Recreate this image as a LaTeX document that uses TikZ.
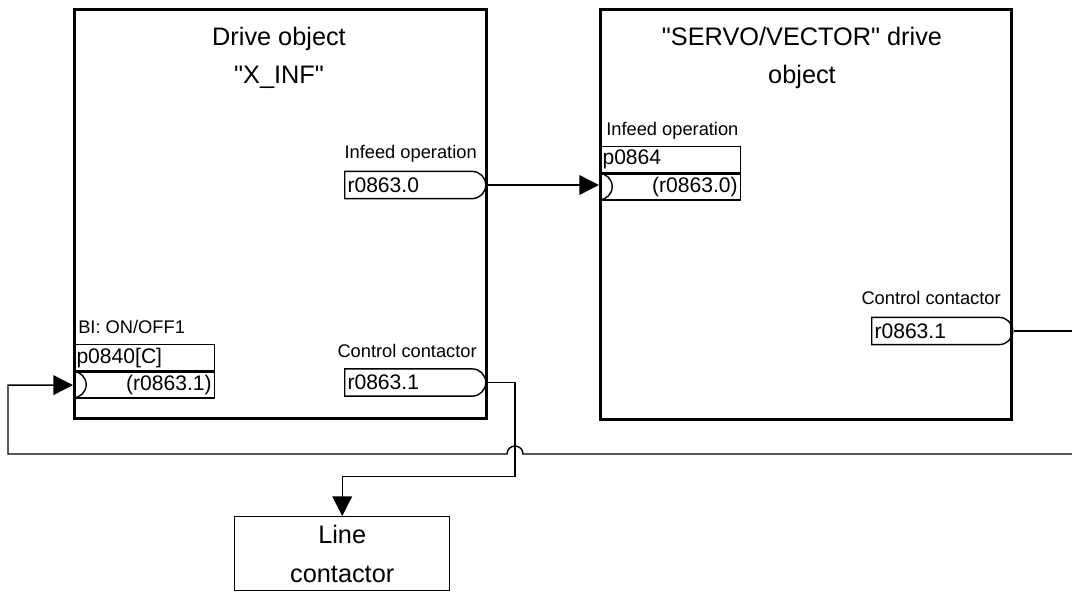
\documentclass[tikz,border=0pt]{standalone}
\usepackage{fontspec}
\setmainfont{Liberation Sans}[Ligatures=TeXOff]
\usetikzlibrary{arrows.meta,shapes.misc,positioning}

\begin{document}
\begin{tikzpicture}[x=0.025cm,y=-0.025cm,
  drvbox/.style={draw, line width=1.8pt, inner sep=0pt, anchor=north west},
  title/.style={align=center, inner sep=0pt, anchor=north, font=\fontsize{18}{27}\selectfont},
  lbl/.style={inner sep=0pt, font=\fontsize{13}{15}\selectfont},
  outpin/.style={draw, line width=1pt, rounded rectangle, rounded rectangle left arc=none, anchor=west, minimum height=0.68cm, text width=3.33cm, align=left, inner xsep=2pt, inner ysep=0pt, font=\fontsize{15}{17}\selectfont},
  pinrow/.style={draw, line width=1pt, anchor=north west, minimum height=0.65cm, text width=3.38cm, inner xsep=2pt, inner ysep=0pt, font=\fontsize{15}{17}\selectfont},
  wire/.style={line width=1pt},
  arr/.style={line width=1pt, -{Triangle[length=14pt,width=14pt]}}]
\useasboundingbox (0,0) rectangle (1072,592);

% drive objects
\node[drvbox, minimum width=10.3cm, minimum height=10.225cm] (xinf) at (73,8) {};
\node[drvbox, minimum width=10.275cm, minimum height=10.25cm] (servo) at (599,8) {};
\node[title] (xinft) at (279,27) {Drive object\\"X\_INF"};
\node[title] (servot) at (802,27) {"SERVO/VECTOR" drive\\object};

% X_INF signals
\node[lbl, anchor=base east] (infa) at (477,158) {Infeed operation};
\node[outpin] (r8630) at (344,185) {r0863.0};
\node[lbl, anchor=base east] (cca) at (477,357) {Control contactor};
\node[outpin] (lcc) at (344,382.5) {r0863.1};
\node[lbl, anchor=base west] (onoff) at (78,333) {BI: ON/OFF1};
\node[pinrow] (p840) at (73,344) {p0840[C]};
\node[pinrow, align=right] (p840in) at (p840.south west) {(r0863.1)};
\draw[wire] (p840in.north west) arc[start angle=90,end angle=-90,radius=0.33cm];

% SERVO/VECTOR signals
\node[lbl, anchor=base west] (infb) at (606,135) {Infeed operation};
\node[pinrow] (p864) at (599,146) {p0864};
\node[pinrow, align=right] (p864in) at (p864.south west) {(r0863.0)};
\draw[wire] (p864in.north west) arc[start angle=90,end angle=-90,radius=0.33cm];
\node[lbl, anchor=base east] (ccb) at (1001,304) {Control contactor};
\node[outpin] (rcc) at (871,331) {r0863.1};

% line contactor
\node[draw, line width=1pt, anchor=north west, minimum width=5.375cm, minimum height=1.85cm, align=center, inner sep=0pt, font=\fontsize{18}{27.5}\selectfont] (linec) at (234,516) {Line\\contactor};

% connections
\coordinate (outa) at (1072,331);
\coordinate (outb) at (1072,454);
\draw[arr] (r8630.east) -- (r8630.east -| p864in.west);
\draw[wire] (rcc.east) -- (outa);
\draw[arr] (outb) -- (523,454) arc[start angle=0,end angle=180,radius=0.2cm] -- (8,454) |- (p840in.west);
\draw[arr] (lcc.east) -- (515,382.5) -- ++(0,94) -| (linec.north);
\end{tikzpicture}
\end{document}
